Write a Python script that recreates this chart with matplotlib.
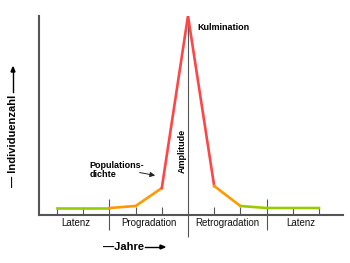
import matplotlib.pyplot as plt

# population curve: years vs. individuals (arbitrary units)
years = [0, 1, 2, 3, 4, 5, 6, 7, 8, 9, 10]
individuals = [7, 7, 7, 9, 27, 199, 29, 9, 7, 7, 7]

# phase of each segment (start index, end index, colour)
segments = [(0, 2, '#99cc00'), (2, 4, '#ff9900'), (4, 6, '#ff4646'),
            (6, 7, '#ff9900'), (7, 10, '#99cc00')]
phase_names = ['Latenz', 'Progradation', 'Retrogradation', 'Latenz']
phase_centers = [0.7, 3.5, 6.5, 9.3]
short_ticks = [0, 1, 3, 4, 6, 7, 9, 10]
separators = [2, 8]

plt.rcParams['font.family'] = ['Liberation Sans', 'DejaVu Sans']
axis_col = '#555555'

fig = plt.figure(figsize=(3.5, 2.63), dpi=100)
ax = fig.add_axes([39 / 350, 48 / 263, 304 / 350, 199 / 263])
ax.set_xlim(-0.69, 10.92)
ax.set_ylim(0, 199)

for s, e, c in segments:
    ax.plot(years[s:e + 1], individuals[s:e + 1], color=c, lw=1.9,
            solid_joinstyle='miter', zorder=3)

# small ticks, separators and amplitude line
ax.vlines(short_ticks, 0, 8, color=axis_col, lw=0.8, zorder=2)
ax.vlines(separators, -15, 16, color=axis_col, lw=0.8, clip_on=False)
ax.vlines(years[5], -22, individuals[5], color=axis_col, lw=0.8, clip_on=False, zorder=2)

for name, xc in zip(phase_names, phase_centers):
    ax.text(xc, -8, name, ha='center', va='center', fontsize=7, color='#111111')

ax.text(5.35, 187, 'Kulmination', fontsize=6.5, fontweight='bold', va='center')
ax.text(4.8, 64, 'Amplitude', fontsize=6.5, fontweight='bold', rotation=90,
        ha='center', va='center')
ax.text(1.25, 45, 'Populations-\ndichte', fontsize=6.5, fontweight='bold',
        va='center', linespacing=0.9)
ax.annotate('', xy=(3.85, 39), xytext=(3.05, 43),
            arrowprops=dict(arrowstyle='-|>,head_length=0.3,head_width=0.15',
                            color='#222222', lw=0.7))

for side in ['top', 'right']:
    ax.spines[side].set_visible(False)
for side in ['left', 'bottom']:
    ax.spines[side].set_color(axis_col)
    ax.spines[side].set_linewidth(1.5)
ax.set_xticks([])
ax.set_yticks([])

# axis titles with arrows
fig.text(103 / 350, 1 - 247 / 263, '\u2014Jahre', fontsize=8, fontweight='bold',
         va='center', ha='left')
fig.add_artist(plt.Line2D([145 / 350, 160 / 350], [1 - 247 / 263] * 2, color='black', lw=1))
fig.add_artist(plt.Polygon([[160 / 350, 1 - 245 / 263], [165 / 350, 1 - 247 / 263],
                            [160 / 350, 1 - 249 / 263]], color='black'))
fig.text(13 / 350, 1 - 141 / 263, '\u2014 Individuenzahl', fontsize=8, fontweight='bold',
         rotation=90, va='center', ha='center')
fig.add_artist(plt.Line2D([13 / 350] * 2, [1 - 92 / 263, 1 - 72 / 263], color='black', lw=1))
fig.add_artist(plt.Polygon([[11 / 350, 1 - 72 / 263], [13 / 350, 1 - 67 / 263],
                            [15 / 350, 1 - 72 / 263]], color='black'))

fig.savefig('out.png', dpi=100)
